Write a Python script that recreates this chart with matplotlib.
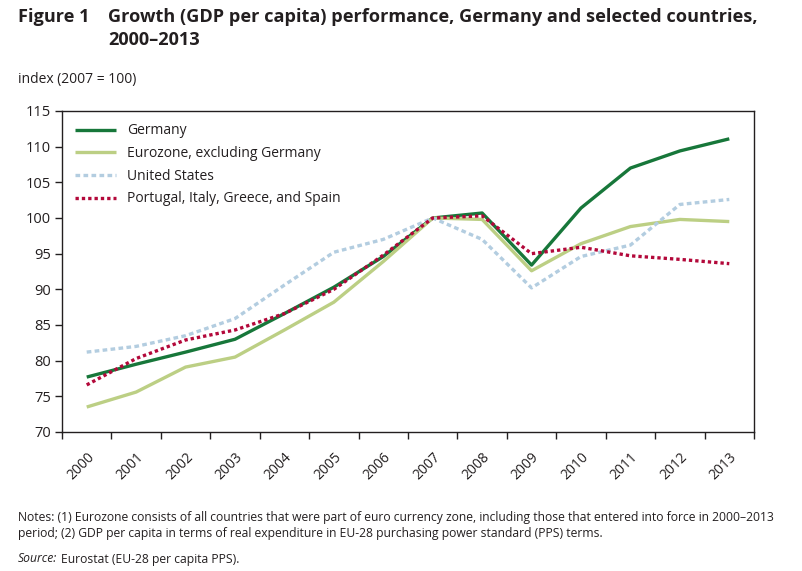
import numpy as np
import matplotlib.pyplot as plt
from matplotlib.ticker import FixedLocator

years = [str(y) for y in range(2000, 2014)]
germany = [77.7, 79.5, 81.2, 83.0, 86.6, 90.3, 94.6, 100.0, 100.7, 93.4, 101.4, 107.0, 109.4, 111.1]
eurozone = [73.5, 75.6, 79.1, 80.5, 84.3, 88.2, 93.9, 100.0, 99.8, 92.6, 96.4, 98.8, 99.8, 99.5]
united_states = [81.2, 82.0, 83.5, 85.9, 90.6, 95.2, 97.0, 100.0, 97.0, 90.2, 94.6, 96.2, 101.9, 102.6]
pigs = [76.6, 80.3, 82.9, 84.3, 86.6, 90.0, 94.8, 100.0, 100.3, 95.0, 95.9, 94.7, 94.2, 93.6]

plt.rcParams['font.family'] = ['Open Sans', 'DejaVu Sans']
text_col = '#231f20'

fig = plt.figure(figsize=(8.02, 5.71), dpi=100)
ax = fig.add_axes([62 / 802, 1 - 432 / 571, 692 / 802, 321 / 571])

x = np.arange(len(years))
ax.plot(x, germany, color='#17773a', lw=2.4, label='Germany', solid_capstyle='butt')
ax.plot(x, eurozone, color='#bccf84', lw=2.4, label='Eurozone, excluding Germany', solid_capstyle='butt')
ax.plot(x, united_states, color='#b3cde0', lw=2.4, ls=(0, (1.4, 1.0)), label='United States')
ax.plot(x, pigs, color='#b3083a', lw=2.4, ls=(0, (1.0, 0.9)), label='Portugal, Italy, Greece, and Spain')

ax.set_xlim(-0.5, len(years) - 0.5)
ax.set_ylim(70, 115)
ax.set_yticks(np.arange(70, 116, 5))
ax.set_xticks(x)
ax.set_xticklabels(years, rotation=45, ha='right', va='top', rotation_mode='anchor')
ax.xaxis.set_minor_locator(FixedLocator(np.arange(-0.5, len(years), 1.0)))
ax.tick_params(axis='x', which='major', length=0, pad=13, labelsize=10, labelcolor=text_col)
ax.tick_params(axis='x', which='minor', length=5, width=1, color=text_col)
ax.tick_params(axis='y', length=5, width=1, color=text_col, labelsize=10.5, labelcolor=text_col, pad=3)
for s in ax.spines.values():
    s.set_color(text_col)
    s.set_linewidth(1)

leg = ax.legend(loc='upper left', frameon=False, fontsize=10, handlelength=3.0,
                handletextpad=0.8, labelspacing=0.55, borderaxespad=0.5,
                bbox_to_anchor=(0.0, 1.0))
for t in leg.get_texts():
    t.set_color(text_col)

title_kw = dict(fontsize=13.1, fontweight='bold', color=text_col, va='center')
fig.text(18 / 802, 1 - 17 / 571, 'Figure 1', **title_kw)
fig.text(108 / 802, 1 - 17 / 571, 'Growth (GDP per capita) performance, Germany and selected countries,', **title_kw)
fig.text(108 / 802, 1 - 40 / 571, '2000\u20132013', **title_kw)
fig.text(18 / 802, 1 - 79 / 571, 'index (2007 = 100)', fontsize=10, color=text_col, va='center')

note_kw = dict(fontsize=8.7, color=text_col, va='center')
fig.text(18 / 802, 1 - 517 / 571,
         'Notes: (1) Eurozone consists of all countries that were part of euro currency zone, including those that entered into force in 2000\u20132013',
         **note_kw)
fig.text(18 / 802, 1 - 534 / 571,
         'period; (2) GDP per capita in terms of real expenditure in EU-28 purchasing power standard (PPS) terms.',
         **note_kw)
src = fig.text(18 / 802, 1 - 559 / 571, 'Source:', fontstyle='italic', **note_kw)
renderer = fig.canvas.get_renderer()
bb = src.get_window_extent(renderer)
fig.text((bb.x1 + 4) / 802, 1 - 559 / 571, 'Eurostat (EU-28 per capita PPS).', **note_kw)

fig.savefig('out.png', dpi=100)
